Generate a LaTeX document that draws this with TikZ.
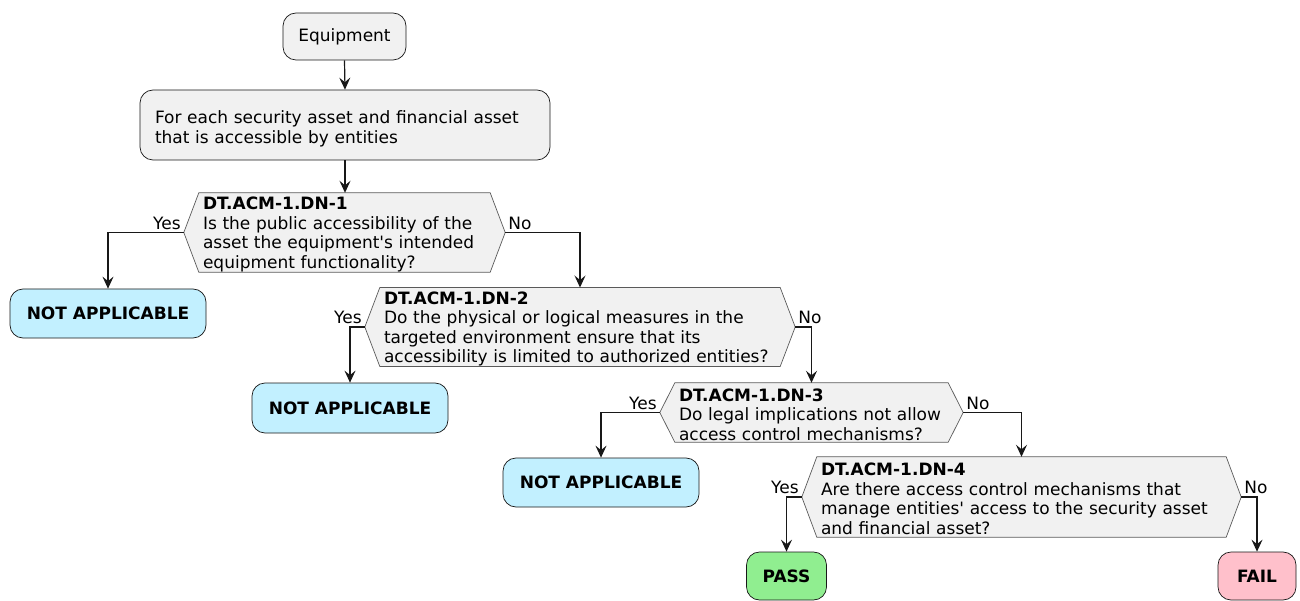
\documentclass[tikz,border=0pt]{standalone}
\usepackage{fontspec}
\setmainfont{DejaVu Sans}
\usetikzlibrary{arrows.meta}
\pgfdeclarelayer{background}
\pgfsetlayers{background,main}
\definecolor{boxgray}{HTML}{F1F1F1}
\definecolor{edgecol}{HTML}{181818}
\definecolor{hexedge}{HTML}{5A5A5A}
\definecolor{nablue}{HTML}{C2F0FF}
\definecolor{passgreen}{HTML}{90EE90}
\definecolor{failpink}{HTML}{FFC0CB}
\newcommand{\hexstrut}{\rule{0pt}{16.5pt}}
\newcommand{\loopstrut}{\rule{0pt}{21pt}}
\begin{document}
\begin{tikzpicture}[x=1pt,y=-1pt,
  font=\fontsize{17}{19.5}\selectfont,
  actbox/.style={draw=edgecol, line width=0.7pt, fill=boxgray, rounded corners=13pt, inner sep=0pt},
  endbox/.style={draw=edgecol, line width=0.7pt, rounded corners=13pt, inner sep=0pt, font=\fontsize{17}{19.5}\selectfont\bfseries},
  hexbox/.style={inner xsep=4pt, inner ysep=0pt, align=left},
  hexline/.style={draw=hexedge, line width=0.7pt, fill=boxgray},
  flow/.style={draw=edgecol, line width=1.2pt, -{Stealth[length=12pt,width=11pt,inset=4.5pt]}},
  lbl/.style={inner sep=3pt}
]
\useasboundingbox (0,0) rectangle (1300,601);

% activities
\node[actbox, minimum width=123, minimum height=47] (start) at (344.5,36.5) {Equipment};
\node[actbox, inner xsep=15pt, text width=380, minimum height=70, align=left] (loop) at (345,125)
  {\loopstrut For each security asset and financial asset\\that is accessible by entities};

% decisions
\node[hexbox, text width=283, minimum height=79] (d1) at (344.5,232.5)
  {\hexstrut\textbf{DT.ACM-1.DN-1}\\Is the public accessibility of the\\asset the equipment\textquotesingle s intended\\equipment functionality?};
\node[hexbox, text width=392, minimum height=78] (d2) at (580,327)
  {\hexstrut\textbf{DT.ACM-1.DN-2}\\Do the physical or logical measures in the\\targeted environment ensure that its\\accessibility is limited to authorized entities?};
\node[hexbox, text width=265, minimum height=59] (d3) at (811.5,412.5)
  {\hexstrut\textbf{DT.ACM-1.DN-3}\\Do legal implications not allow\\access control mechanisms?};
\node[hexbox, text width=401, minimum height=80] (d4) at (1021.5,497)
  {\hexstrut\textbf{DT.ACM-1.DN-4}\\Are there access control mechanisms that\\manage entities\textquotesingle{} access to the security asset\\and financial asset?};

\foreach \d in {d1,d2,d3,d4}{
  \coordinate (\d l) at ([xshift=-15pt]\d.west);
  \coordinate (\d r) at ([xshift=15pt]\d.east);
}
\begin{pgfonlayer}{background}
\foreach \d in {d1,d2,d3,d4}{
  \path[hexline] (\d.north west) -- (\d.north east) -- (\d r) -- (\d.south east)
     -- (\d.south west) -- (\d l) -- cycle;
}
\end{pgfonlayer}

% outcomes
\node[endbox, fill=nablue, minimum width=196, minimum height=49] (na1) at (108,313.5) {NOT APPLICABLE};
\node[endbox, fill=nablue, minimum width=196, minimum height=50] (na2) at (350,408) {NOT APPLICABLE};
\node[endbox, fill=nablue, minimum width=196, minimum height=49] (na3) at (601,482.5) {NOT APPLICABLE};
\node[endbox, fill=passgreen, minimum width=80, minimum height=48] (pass) at (786.5,576) {PASS};
\node[endbox, fill=failpink, minimum width=78, minimum height=48] (fail) at (1257,576) {FAIL};

% connectors
\draw[flow] (start.south) -- (loop.south |- loop.north);
\draw[flow] (loop.south) -- (loop.south |- d1.north);

\draw[flow] (d1l) -| (na1.north);
\draw[flow] (d1r) -| (d2.north);
\draw[flow] (d2l) -| (na2.north);
\draw[flow] (d2r) -| (d3.north);
\draw[flow] (d3l) -| (na3.north);
\draw[flow] (d3r) -| (d4.north);
\draw[flow] (d4l) -| (pass.north);
\draw[flow] (d4r) -| (fail.north);

% branch labels
\node[lbl, anchor=south east] (y1) at (d1l) {Yes};
\node[lbl, anchor=south west] (n1) at (d1r) {No};
\node[lbl, anchor=south east] (y2) at (d2l) {Yes};
\node[lbl, anchor=south west] (n2) at (d2r) {No};
\node[lbl, anchor=south east] (y3) at (d3l) {Yes};
\node[lbl, anchor=south west] (n3) at (d3r) {No};
\node[lbl, anchor=south east] (y4) at (d4l) {Yes};
\node[lbl, anchor=south west] (n4) at (d4r) {No};
\end{tikzpicture}
\end{document}
